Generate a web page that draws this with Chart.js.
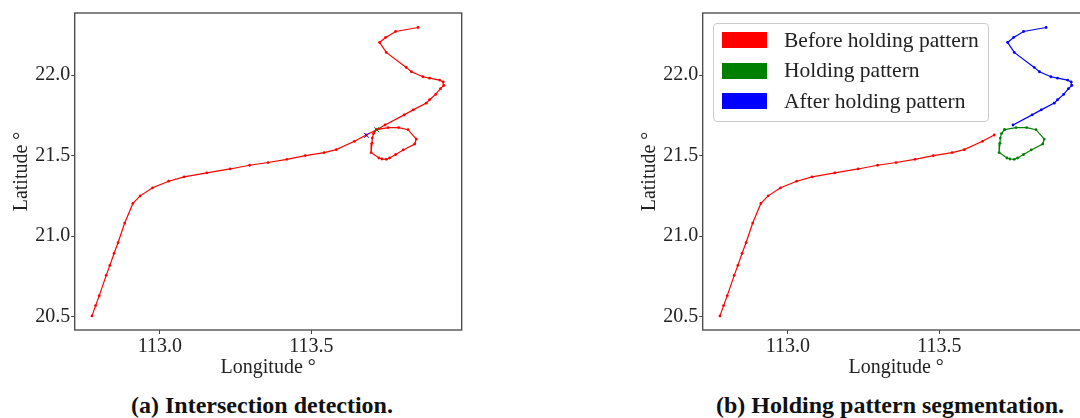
<!DOCTYPE html>
<html>
<head>
<meta charset="utf-8">
<script src="https://cdn.jsdelivr.net/npm/chart.js@4.4.1/dist/chart.umd.min.js"></script>
<style>
  html, body { margin: 0; padding: 0; width: 1080px; height: 418px; overflow: hidden; background: #fff; }
  canvas { position: absolute; top: 0; }
  #chartA { left: 0; }
  #chartB { left: 628px; }
  .caption { position: absolute; width: 420px; text-align: center; top: 393px;
             font: bold 24px "Liberation Serif", serif; line-height: 24px; color: #111; }
  #legendB { position: absolute; left: 713px; top: 23px; width: 276px; box-sizing: border-box;
             padding: 1px 0 4px 0; border: 1px solid #ccc; border-radius: 4px;
             background: rgba(255,255,255,0.8); font: 21.5px "Liberation Serif", serif; color: #222; }
  #legendB .row { height: 30.5px; display: flex; align-items: center; }
  #legendB .sw { width: 45px; height: 16px; margin-left: 8px; margin-right: 17px; }
</style>
</head>
<body>
<canvas id="chartA" width="480" height="385"></canvas>
<canvas id="chartB" width="480" height="385"></canvas>
<div id="legendB"></div>
<div class="caption" style="left:52px">(a) Intersection detection.</div>
<div class="caption" style="left:680px">(b) Holding pattern segmentation.</div>
<script>
// track (degrees)
const beforeLon = [112.776, 112.788, 112.800, 112.823, 112.835, 112.849, 112.862, 112.884, 112.911, 112.935,
                   112.976, 113.029, 113.080, 113.155, 113.232, 113.296, 113.357, 113.419, 113.480, 113.542,
                   113.582, 113.642, 113.681];
const beforeLat = [20.504, 20.568, 20.630, 20.756, 20.818, 20.893, 20.959, 21.081, 21.203, 21.250,
                   21.300, 21.341, 21.368, 21.393, 21.417, 21.440, 21.457, 21.477, 21.500, 21.519,
                   21.537, 21.589, 21.628];
const holdLon = [113.715, 113.705, 113.701, 113.700, 113.697, 113.723, 113.733, 113.747, 113.758, 113.778,
                 113.803, 113.841, 113.846, 113.819, 113.788, 113.753, 113.715];
const holdLat = [21.661, 21.637, 21.609, 21.577, 21.519, 21.485, 21.479, 21.477, 21.485, 21.507,
                 21.535, 21.572, 21.603, 21.661, 21.674, 21.674, 21.661];
const afterLon = [113.743, 113.806, 113.836, 113.879, 113.890, 113.910, 113.926, 113.937, 113.935, 113.923,
                  113.890, 113.868, 113.830, 113.813, 113.747, 113.725, 113.745, 113.778, 113.852];
const afterLat = [21.690, 21.753, 21.784, 21.826, 21.847, 21.880, 21.916, 21.936, 21.958, 21.969,
                  21.981, 21.990, 22.021, 22.048, 22.141, 22.203, 22.234, 22.271, 22.296];
// detected intersection points
const crossLon = [113.682, 113.715];
const crossLat = [21.626, 21.661];

const lonTicks = [113.0, 113.5];
const latTicks = [20.5, 21.0, 21.5, 22.0];

const toPts = (xs, ys) => xs.map((x, i) => ({x: x, y: ys[i]}));

Chart.defaults.font.family = '"Liberation Serif", serif';
Chart.defaults.color = '#222';

const frame = {
  id: 'frame',
  afterDatasetsDraw(chart) {
    const {ctx, chartArea: a} = chart;
    ctx.save();
    ctx.strokeStyle = '#444';
    ctx.lineWidth = 1.3;
    ctx.strokeRect(a.left, a.top, a.right - a.left, a.bottom - a.top);
    ctx.restore();
  }
};

function axes() {
  return {
    x: {
      type: 'linear', min: 112.719, max: 113.996,
      afterBuildTicks: s => { s.ticks = lonTicks.map(v => ({value: v})); },
      afterFit: s => { s.height = 55; },
      ticks: { callback: v => v.toFixed(1), font: {size: 20}, padding: 1, maxRotation: 0 },
      grid: { drawOnChartArea: false, tickLength: 4, color: '#444' },
      border: { display: false },
      title: { display: true, text: 'Longitude °', font: {size: 20}, padding: {top: 0, bottom: 5} }
    },
    y: {
      type: 'linear', min: 20.4165, max: 22.386,
      afterBuildTicks: s => { s.ticks = latTicks.map(v => ({value: v})); },
      afterFit: s => { s.width = 74.7; },
      ticks: { callback: v => v.toFixed(1), font: {size: 20}, padding: 1 },
      grid: { drawOnChartArea: false, tickLength: 3.5, color: '#444' },
      border: { display: false },
      title: { display: true, text: 'Latitude °', font: {size: 20}, padding: {top: 9.7, bottom: 0} }
    }
  };
}

function baseOptions() {
  return {
    responsive: false,
    animation: false,
    layout: { padding: {top: 12.7, right: 18.3, bottom: 0, left: 0} },
    plugins: { legend: { display: false }, tooltip: { enabled: false } },
    scales: axes()
  };
}

function line(label, pts, color) {
  return { label: label, data: pts, showLine: true, borderColor: color, backgroundColor: color,
           borderWidth: 1.2, pointRadius: 1.4, pointBorderWidth: 0, order: 2 };
}

new Chart(document.getElementById('chartA'), {
  type: 'scatter',
  data: {
    datasets: [
      line('Track', toPts(beforeLon.concat(holdLon, afterLon), beforeLat.concat(holdLat, afterLat)), '#ff0000'),
      { label: 'Start', data: [{x: crossLon[0], y: crossLat[0]}], pointStyle: 'crossRot', pointRadius: 3.5,
        borderColor: '#0000ff', borderWidth: 1, order: 1 },
      { label: 'End', data: [{x: crossLon[1], y: crossLat[1]}], pointStyle: 'crossRot', pointRadius: 3.5,
        borderColor: '#008000', borderWidth: 1, order: 1 }
    ]
  },
  options: baseOptions(),
  plugins: [frame]
});

const chartB = new Chart(document.getElementById('chartB'), {
  type: 'scatter',
  data: {
    datasets: [
      line('Before holding pattern', toPts(beforeLon, beforeLat), '#ff0000'),
      line('Holding pattern', toPts(holdLon, holdLat), '#008000'),
      line('After holding pattern', toPts(afterLon, afterLat), '#0000ff')
    ]
  },
  options: baseOptions(),
  plugins: [frame]
});

// legend box inside the right plot
const legend = document.getElementById('legendB');
chartB.data.datasets.forEach(ds => {
  const row = document.createElement('div');
  row.className = 'row';
  const sw = document.createElement('span');
  sw.className = 'sw';
  sw.style.background = ds.borderColor;
  const txt = document.createElement('span');
  txt.textContent = ds.label;
  row.appendChild(sw);
  row.appendChild(txt);
  legend.appendChild(row);
});
</script>
</body>
</html>
